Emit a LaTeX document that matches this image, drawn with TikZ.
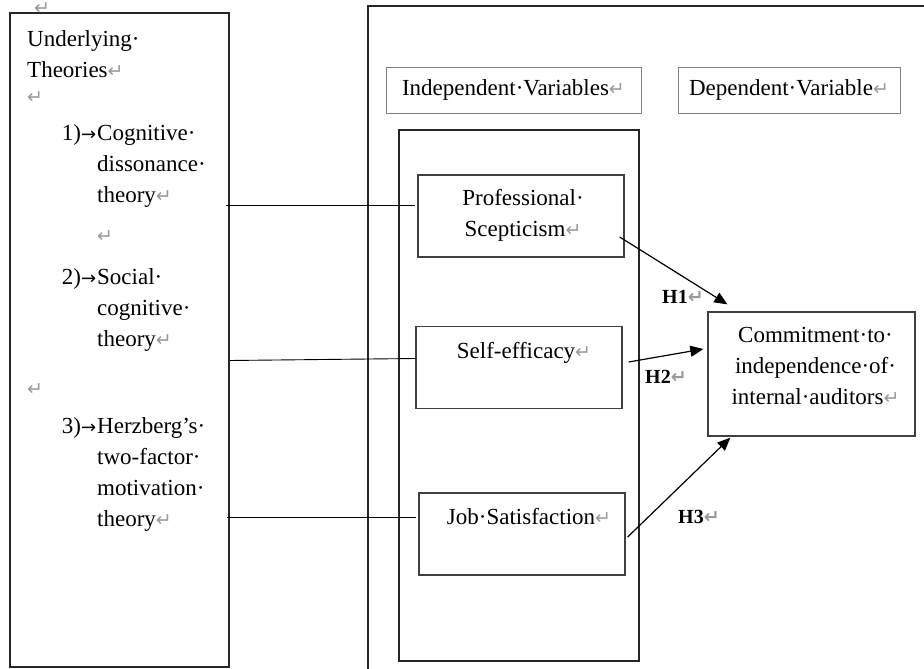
\documentclass[tikz,border=0pt]{standalone}
\usepackage{fontspec}
\setmainfont{Liberation Serif}
\newfontfamily\symfont{DejaVu Sans}
\usetikzlibrary{arrows.meta,calc}

\definecolor{markgray}{HTML}{9A9A9A}
\newcommand\retmark{{\symfont\fontsize{19}{19}\selectfont\color{markgray}↵}}
\newcommand\wsp{·}
\newcommand\tabmark{{\symfont\fontsize{18}{18}\selectfont→}}
\newcommand\itemno[1]{\llap{#1\tabmark\hspace{1pt}}}
\newcommand\firstline{\rule{0pt}{16pt}}

\tikzset{
  frame/.style={draw=black!85, line width=1.6pt, inner sep=0pt},
  headbox/.style={draw=black!50, line width=0.9pt, minimum height=46pt, inner sep=0pt},
  varbox/.style={draw=black!75, line width=1.3pt, minimum width=206pt, minimum height=82pt, inner sep=0pt},
  boxtext/.style={align=center, anchor=north, inner sep=0pt},
  theory/.style={align=left, anchor=north west, inner sep=0pt},
  markbase/.style={anchor=base west, inner sep=0pt},
  link/.style={line width=0.9pt},
  hyp/.style={line width=1.2pt, -{Triangle[length=13pt,width=11pt]}},
  hlabel/.style={font=\fontsize{20}{20}\selectfont\bfseries, anchor=base west, inner sep=0pt},
}

\begin{document}
\begin{tikzpicture}[x=1pt, y=-1pt, font=\fontsize{23}{31}\selectfont]
  \useasboundingbox (0,0) rectangle (924,669);
  % frames
  \node[frame, minimum width=219pt, minimum height=654pt] (theo) at (119.5,340) {};
  \node[frame, minimum width=580pt, minimum height=690pt] (model) at (658,351) {};
  \node[frame, minimum width=240pt, minimum height=531pt] (ivbox) at (519,395.5) {};
  % headings
  \node[headbox, minimum width=255pt] (ivh) at (513.5,90) {Independent\wsp Variables\retmark};
  \node[headbox, minimum width=222pt] (dvh) at (789,90) {Dependent\wsp Variable\retmark};
  % underlying theories
  \node[markbase] (gap0) at (34,15) {\retmark};
  \node[theory] (t0) at (27,30) {\firstline Underlying\wsp\\Theories\retmark};
  \node[markbase] (gap1) at (27,103) {\retmark};
  \node[theory] (t1) at (97,124) {\firstline\itemno{1)}Cognitive\wsp\\dissonance\wsp\\theory\retmark};
  \node[markbase] (gap2) at (97,242) {\retmark};
  \node[theory] (t2) at (97,268) {\firstline\itemno{2)}Social\wsp\\cognitive\wsp\\theory\retmark};
  \node[markbase] (gap3) at (27,395) {\retmark};
  \node[theory] (t3) at (97,417) {\firstline\itemno{3)}Herzberg’s\wsp\\two-factor\wsp\\motivation\wsp\\theory\retmark};
  % variables
  \node[varbox] (ps) at (521,216) {};
  \node[varbox] (se) at (519,367.5) {};
  \node[varbox] (js) at (522,534) {};
  \node[varbox, minimum width=207pt, minimum height=124pt] (dv) at (811.5,374) {};
  \node[boxtext] (pstext) at ($(ps.north)+(2,15)$) {\firstline Professional\wsp\\Scepticism\retmark};
  \node[boxtext] (setext) at ($(se.north)+(5,16)$) {\firstline Self-efficacy\retmark};
  \node[boxtext] (jstext) at ($(js.north)+(7,16)$) {\firstline Job\wsp Satisfaction\retmark};
  \node[boxtext] (dvtext) at ($(dv.north)+(4,15)$) {\firstline Commitment\wsp to\wsp\\independence\wsp of\wsp\\internal\wsp auditors\retmark};
  % theory links
  \draw[link] ($(theo.east |- ps.west)+(-4,-11)$) -- ($(ps.west)+(-2,-11)$);
  \draw[link] ($(theo.east |- se.west)+(0,-7)$) -- ($(se.west)+(0,-9)$);
  \draw[link] ($(theo.east |- js.west)+(-3,-17)$) -- ($(js.west)+(-2,-17)$);
  % hypotheses
  \draw[hyp] ($(ps.east)+(-5,21)$) -- ($(dv.north west)+(20,-7)$);
  \draw[hyp] ($(se.east)+(6,-5.5)$) -- ($(dv.west)+(-4,-25)$);
  \draw[hyp] ($(js.east)+(2,3)$) -- ($(dv.south west)+(23,1)$);
  \node[hlabel] (h1) at (662,303) {H1\retmark};
  \node[hlabel] (h2) at (645,383) {H2\retmark};
  \node[hlabel] (h3) at (678,523) {H3\retmark};
\end{tikzpicture}
\end{document}
